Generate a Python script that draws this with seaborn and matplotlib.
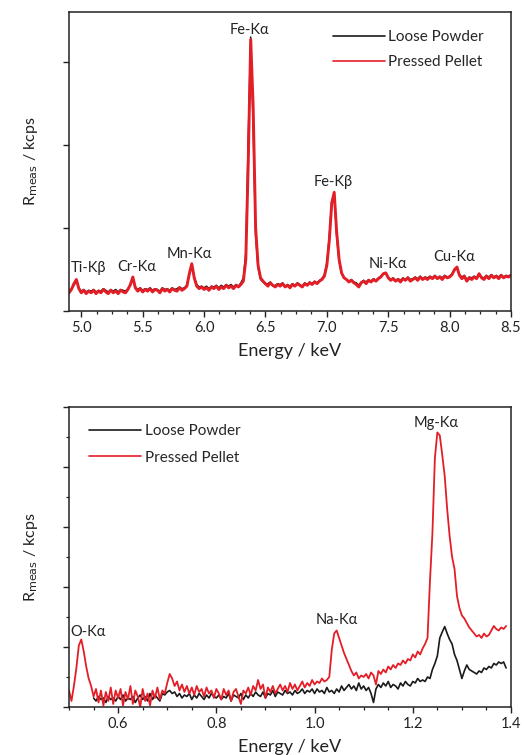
"""XRF spectra: loose powder vs pressed pellet (high- and low-energy range)."""

import numpy as np
import pandas as pd
import seaborn as sns
import matplotlib
matplotlib.use("Agg")
import matplotlib.pyplot as plt
from matplotlib.ticker import MultipleLocator, NullFormatter

# ---- data: high-energy range (4.90 .. 8.50 keV, 0.02 keV channels) ----
HI_START, HI_STEP = 4.90, 0.02
hi_powder = [
    0.24, 0.27, 0.31, 0.36, 0.28, 0.24, 0.26, 0.23, 0.25, 0.24,  # 4.90
    0.26, 0.23, 0.25, 0.24, 0.27, 0.25, 0.23, 0.26, 0.24, 0.26,  # 5.10
    0.23, 0.26, 0.25, 0.24, 0.27, 0.31, 0.39, 0.29, 0.26, 0.28,  # 5.30
    0.25, 0.27, 0.26, 0.28, 0.25, 0.27, 0.26, 0.24, 0.28, 0.26,  # 5.50
    0.27, 0.25, 0.28, 0.26, 0.27, 0.29, 0.27, 0.28, 0.31, 0.44,  # 5.70
    0.55, 0.41, 0.32, 0.29, 0.30, 0.28, 0.30, 0.27, 0.30, 0.29,  # 5.90
    0.31, 0.28, 0.31, 0.29, 0.32, 0.30, 0.32, 0.29, 0.32, 0.30,  # 6.10
    0.34, 0.40, 0.70, 2.10, 3.30, 2.20, 0.90, 0.52, 0.38, 0.35,  # 6.30
    0.32, 0.33, 0.35, 0.30, 0.31, 0.33, 0.32, 0.34, 0.30, 0.32,  # 6.50
    0.30, 0.33, 0.31, 0.34, 0.32, 0.30, 0.34, 0.32, 0.35, 0.33,  # 6.70
    0.36, 0.34, 0.37, 0.39, 0.44, 0.58, 0.90, 1.33, 1.40, 0.90,  # 6.90
    0.60, 0.45, 0.40, 0.38, 0.36, 0.38, 0.35, 0.34, 0.31, 0.35,  # 7.10
    0.37, 0.35, 0.38, 0.36, 0.39, 0.37, 0.40, 0.42, 0.45, 0.45,  # 7.30
    0.41, 0.38, 0.40, 0.37, 0.39, 0.37, 0.40, 0.38, 0.41, 0.38,  # 7.50
    0.39, 0.41, 0.39, 0.42, 0.39, 0.41, 0.40, 0.42, 0.40, 0.43,  # 7.70
    0.40, 0.42, 0.40, 0.43, 0.41, 0.42, 0.45, 0.49, 0.51, 0.44,  # 7.90
    0.41, 0.43, 0.38, 0.41, 0.40, 0.42, 0.40, 0.44, 0.41, 0.40,  # 8.10
    0.43, 0.41, 0.44, 0.41, 0.43, 0.41, 0.44, 0.41, 0.43, 0.42,  # 8.30
    0.44,                                                        # 8.50
]
hi_pellet = [
    0.22, 0.26, 0.33, 0.38, 0.27, 0.22, 0.25, 0.21, 0.24, 0.22,  # 4.90
    0.25, 0.21, 0.24, 0.22, 0.26, 0.23, 0.21, 0.25, 0.22, 0.24,  # 5.10
    0.21, 0.25, 0.23, 0.22, 0.26, 0.32, 0.41, 0.28, 0.24, 0.27,  # 5.30
    0.23, 0.26, 0.24, 0.27, 0.23, 0.26, 0.25, 0.22, 0.27, 0.24,  # 5.50
    0.26, 0.23, 0.27, 0.25, 0.24, 0.28, 0.25, 0.27, 0.30, 0.45,  # 5.70
    0.57, 0.40, 0.30, 0.27, 0.29, 0.26, 0.28, 0.25, 0.29, 0.27,  # 5.90
    0.30, 0.26, 0.29, 0.27, 0.31, 0.28, 0.30, 0.27, 0.31, 0.29,  # 6.10
    0.32, 0.36, 0.62, 1.80, 3.27, 2.45, 1.00, 0.55, 0.40, 0.36,  # 6.30
    0.33, 0.30, 0.34, 0.31, 0.29, 0.32, 0.30, 0.33, 0.29, 0.31,  # 6.50
    0.28, 0.32, 0.30, 0.33, 0.31, 0.29, 0.33, 0.31, 0.34, 0.32,  # 6.70
    0.35, 0.33, 0.36, 0.38, 0.42, 0.55, 0.85, 1.30, 1.43, 0.95,  # 6.90
    0.62, 0.46, 0.40, 0.38, 0.35, 0.37, 0.34, 0.32, 0.29, 0.34,  # 7.10
    0.36, 0.33, 0.37, 0.35, 0.38, 0.36, 0.39, 0.41, 0.45, 0.46,  # 7.30
    0.40, 0.37, 0.39, 0.36, 0.38, 0.35, 0.39, 0.37, 0.40, 0.36,  # 7.50
    0.38, 0.40, 0.37, 0.41, 0.38, 0.40, 0.38, 0.41, 0.39, 0.42,  # 7.70
    0.39, 0.41, 0.38, 0.42, 0.40, 0.41, 0.44, 0.50, 0.53, 0.43,  # 7.90
    0.39, 0.42, 0.36, 0.40, 0.38, 0.41, 0.39, 0.45, 0.40, 0.38,  # 8.10
    0.42, 0.39, 0.43, 0.40, 0.42, 0.39, 0.43, 0.40, 0.42, 0.41,  # 8.30
    0.43,                                                        # 8.50
]

# ---- data: low-energy range (0.005 keV channels) ----
LO_STEP = 0.005
LO_PELLET_START = 0.50
lo_pellet = [
    0.55, 0.20, 0.70, 1.30, 2.05, 2.25, 1.85, 1.35, 0.95, 0.70,  # 0.500
    0.35, 0.60, 0.15, 0.55, 0.05, 0.50, 0.20, 0.65, 0.10, 0.55,  # 0.550
    0.30, 0.60, 0.05, 0.50, 0.25, 0.70, 0.10, 0.55, 0.35, 0.00,  # 0.600
    0.60, 0.20, 0.45, 0.05, 0.55, 0.30, 0.65, 0.25, 0.55, 0.45,  # 0.650
    0.80, 1.10, 0.95, 0.70, 0.85, 0.55, 0.75, 0.50, 0.70, 0.45,  # 0.700
    0.65, 0.40, 0.70, 0.50, 0.60, 0.35, 0.65, 0.45, 0.55, 0.30,  # 0.750
    0.60, 0.45, 0.25, 0.60, 0.40, 0.55, 0.20, 0.50, 0.60, 0.35,  # 0.800
    0.10, 0.55, 0.45, 0.65, 0.40, 0.70, 0.55, 0.90, 0.60, 0.75,  # 0.850
    0.30, 0.65, 0.50, 0.70, 0.45, 0.60, 0.75, 0.55, 0.70, 0.50,  # 0.900
    0.80, 0.60, 0.75, 0.55, 0.70, 0.85, 0.65, 0.80, 0.70, 0.90,  # 0.950
    0.75, 0.85, 0.80, 0.95, 0.85, 0.90, 1.00, 1.90, 2.45, 2.55,  # 1.000
    2.30, 2.05, 1.80, 1.60, 1.40, 1.20, 1.05, 1.15, 0.95, 1.05,  # 1.050
    1.00, 1.10, 0.95, 1.15, 1.05, 0.75, 1.20, 1.10, 1.25, 1.15,  # 1.100
    1.35, 1.25, 1.40, 1.30, 1.45, 1.40, 1.55, 1.45, 1.60, 1.55,  # 1.150
    1.75, 1.65, 1.85, 1.75, 1.95, 2.10, 2.30, 4.20, 5.80, 8.30,  # 1.200
    9.15, 9.05, 8.40, 7.70, 6.60, 5.70, 5.00, 4.60, 3.70, 3.30,  # 1.250
    3.05, 2.95, 2.80, 2.65, 2.55, 2.45, 2.35, 2.40, 2.30, 2.45,  # 1.300
    2.35, 2.40, 2.55, 2.70, 2.60, 2.55, 2.65, 2.60, 2.70,        # 1.350
]
LO_POWDER_START = 0.55
lo_powder = [
    0.30, 0.20, 0.35, 0.25, 0.30, 0.15, 0.35, 0.25, 0.30, 0.20,  # 0.550
    0.35, 0.25, 0.40, 0.20, 0.30, 0.25, 0.35, 0.15, 0.30, 0.40,  # 0.600
    0.25, 0.35, 0.20, 0.45, 0.25, 0.40, 0.30, 0.20, 0.45, 0.40,  # 0.650
    0.50, 0.55, 0.45, 0.50, 0.35, 0.45, 0.30, 0.40, 0.35, 0.45,  # 0.700
    0.25, 0.40, 0.30, 0.45, 0.35, 0.25, 0.40, 0.30, 0.45, 0.35,  # 0.750
    0.30, 0.40, 0.25, 0.35, 0.30, 0.45, 0.20, 0.40, 0.35, 0.30,  # 0.800
    0.45, 0.25, 0.40, 0.30, 0.45, 0.35, 0.50, 0.40, 0.35, 0.50,  # 0.850
    0.30, 0.45, 0.40, 0.55, 0.35, 0.50, 0.45, 0.40, 0.55, 0.45,  # 0.900
    0.50, 0.40, 0.55, 0.45, 0.50, 0.60, 0.45, 0.55, 0.50, 0.60,  # 0.950
    0.45, 0.60, 0.50, 0.55, 0.45, 0.65, 0.50, 0.55, 0.45, 0.60,  # 1.000
    0.50, 0.70, 0.55, 0.65, 0.75, 0.60, 0.70, 0.55, 0.80, 0.60,  # 1.050
    0.70, 0.55, 0.65, 0.45, 0.15, 0.60, 0.75, 0.65, 0.80, 0.70,  # 1.100
    0.85, 0.65, 0.75, 0.70, 0.60, 0.80, 0.70, 0.85, 0.75, 0.70,  # 1.150
    0.85, 0.80, 0.95, 0.85, 0.90, 0.85, 1.00, 0.95, 1.25, 1.45,  # 1.200
    1.70, 2.30, 2.50, 2.68, 2.45, 2.25, 2.10, 1.75, 1.55, 1.25,  # 1.250
    0.95, 1.20, 1.40, 1.25, 1.20, 1.15, 1.10, 1.20, 1.15, 1.30,  # 1.300
    1.25, 1.35, 1.30, 1.45, 1.40, 1.50, 1.45, 1.50, 1.30,        # 1.350
]

# peak labels: (text, energy, height)
hi_labels = [
    ("Ti-Kβ", 5.06, 0.52), ("Cr-Kα", 5.45, 0.53),
    ("Mn-Kα", 5.88, 0.69), ("Fe-Kα", 6.37, 3.39),
    ("Fe-Kβ", 7.05, 1.55), ("Ni-Kα", 7.50, 0.57),
    ("Cu-Kα", 8.04, 0.65),
]
lo_labels = [
    ("O-Kα", 0.539, 2.5), ("Na-Kα", 1.045, 2.9),
    ("Mg-Kα", 1.248, 9.45),
]

SAMPLES = ["Loose Powder", "Pressed Pellet"]
COLORS = {"Loose Powder": "#1a1a1a", "Pressed Pellet": "#e41e26"}


def spectrum(values, start, step, sample):
    e = start + step * np.arange(len(values))
    return pd.DataFrame({"energy": e, "rate": values, "sample": sample})


hi = pd.concat([spectrum(hi_powder, HI_START, HI_STEP, SAMPLES[0]),
                spectrum(hi_pellet, HI_START, HI_STEP, SAMPLES[1])])
lo = pd.concat([spectrum(lo_powder, LO_POWDER_START, LO_STEP, SAMPLES[0]),
                spectrum(lo_pellet, LO_PELLET_START, LO_STEP, SAMPLES[1])])

sns.set_style("ticks")
plt.rcParams["font.family"] = ["Lato", "DejaVu Sans"]
plt.rcParams["mathtext.fontset"] = "dejavusans"
plt.rcParams["axes.edgecolor"] = "#222222"
plt.rcParams["axes.linewidth"] = 1.1

fig = plt.figure(figsize=(5.24, 7.55), dpi=100)
ax_hi = fig.add_axes([0.1317, 0.588, 0.8435, 0.396])
ax_lo = fig.add_axes([0.1317, 0.0636, 0.8435, 0.3974])


def draw(ax, df, widths):
    for s in SAMPLES:
        sns.lineplot(data=df[df["sample"] == s], x="energy", y="rate", ax=ax,
                     color=COLORS[s], lw=widths[s], label=s,
                     estimator=None, sort=False)


draw(ax_hi, hi, {"Loose Powder": 1.1, "Pressed Pellet": 2.1})
draw(ax_lo, lo, {"Loose Powder": 1.2, "Pressed Pellet": 1.3})

ax_hi.set_xlim(4.9, 8.5)
ax_hi.set_ylim(0, 3.6)
ax_hi.xaxis.set_major_locator(MultipleLocator(0.5))
ax_hi.xaxis.set_minor_locator(MultipleLocator(0.125))
ax_hi.yaxis.set_major_locator(MultipleLocator(1))

ax_lo.set_xlim(0.5, 1.4)
ax_lo.set_ylim(0, 10)
ax_lo.xaxis.set_major_locator(MultipleLocator(0.2))
ax_lo.xaxis.set_minor_locator(MultipleLocator(0.05))
ax_lo.yaxis.set_major_locator(MultipleLocator(2))
ax_lo.yaxis.set_minor_locator(MultipleLocator(1))

for ax, labels in [(ax_hi, hi_labels), (ax_lo, lo_labels)]:
    ax.yaxis.set_major_formatter(NullFormatter())
    ax.tick_params(which="major", direction="out", length=4, width=1,
                   labelsize=10.5, colors="#222222", pad=3)
    ax.tick_params(which="minor", direction="out", length=2.5, width=0.9,
                   colors="#222222")
    ax.set_xlabel("Energy / keV", fontsize=13, color="#222222", labelpad=6)
    ax.set_ylabel("R$_{\\rm meas}$ / kcps", fontsize=11.5, color="#222222",
                  labelpad=14)
    for spine in ax.spines.values():
        spine.set_visible(True)
    for text, e, h in labels:
        ax.text(e, h, text, ha="center", va="center", fontsize=10.5,
                color="#222222")

leg_hi = ax_hi.legend(loc="upper left", bbox_to_anchor=(0.597, 0.94),
                      frameon=False, fontsize=11, handlelength=3.4,
                      handletextpad=0.2, labelspacing=0.75, borderpad=0,
                      borderaxespad=0)
leg_lo = ax_lo.legend(loc="upper left", bbox_to_anchor=(0.045, 0.942),
                      frameon=False, fontsize=11, handlelength=3.4,
                      handletextpad=0.3, labelspacing=0.8, borderpad=0,
                      borderaxespad=0)
for leg in (leg_hi, leg_lo):
    for line in leg.get_lines():
        line.set_linewidth(1.2)

fig.savefig("out.png", dpi=100)
